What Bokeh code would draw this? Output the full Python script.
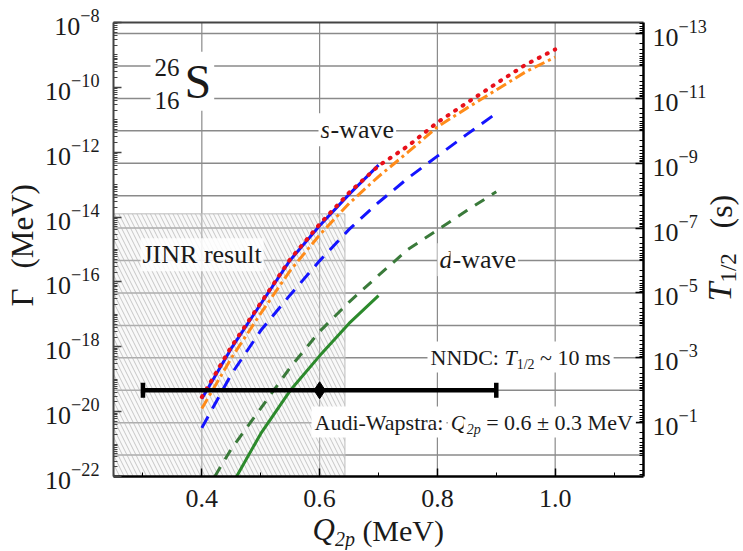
import math
from bokeh.plotting import figure
from bokeh.models import (Range1d, LogScale, LogAxis, LinearAxis, FixedTicker, Label,
                          PrintfTickFormatter, Grid)
from bokeh.embed import file_html
from bokeh.resources import INLINE

# ---------------- data ----------------
HBAR_MEV_S = 6.582119569e-22
T_FACTOR = HBAR_MEV_S * math.log(2)          # T1/2 [s] = T_FACTOR / Gamma [MeV]

# s-wave, solid blue
q_s_solid = [0.40, 0.45, 0.50, 0.55, 0.60, 0.65, 0.70]
lg_s_solid = [-19.60, -18.05, -16.68, -15.33, -14.27, -13.30, -12.40]
# s-wave, red dotted and orange dash-dot
q_s_long = [0.40, 0.45, 0.50, 0.55, 0.60, 0.65, 0.70, 0.75, 0.80, 0.85, 0.90, 0.95, 1.00]
lg_s_dotted = [-19.55, -18.00, -16.65, -15.30, -14.22, -13.25, -12.42, -11.81, -11.08, -10.48, -9.88, -9.30, -8.83]
lg_s_dashdot = [-19.90, -18.35, -16.97, -15.65, -14.55, -13.58, -12.75, -12.00, -11.22, -10.64, -10.08, -9.52, -9.07]
# s-wave, blue dashed
q_s_dashed = [0.40, 0.45, 0.50, 0.55, 0.60, 0.65, 0.70, 0.75, 0.80, 0.85, 0.90]
lg_s_dashed = [-20.50, -18.85, -17.50, -16.40, -15.35, -14.38, -13.55, -12.80, -12.12, -11.45, -10.80]
# d-wave, green dashed and solid
q_d_dashed = [0.422, 0.45, 0.50, 0.55, 0.60, 0.65, 0.70, 0.75, 0.80, 0.85, 0.90]
lg_d_dashed = [-22.00, -21.15, -19.90, -18.64, -17.53, -16.62, -15.80, -15.00, -14.40, -13.80, -13.22]
q_d_solid = [0.459, 0.50, 0.55, 0.60, 0.65, 0.70]
lg_d_solid = [-22.00, -20.68, -19.35, -18.28, -17.28, -16.42]

# JINR result region (hatched)
jinr_q = [0.25, 0.643]
jinr_lg = [-22.0, -13.9]

# Audi-Wapstra Q2p and NNDC half-life
aw_q = 0.6
aw_err = 0.3
nndc_t_half = 0.010  # s

x_ticks = [0.4, 0.6, 0.8, 1.0]
x_minor = [0.3, 0.5, 0.7, 0.9, 1.1]
g_major_exp = list(range(-22, -7, 2))
t_major_exp = list(range(-13, 0, 2))
t_grid_exp = list(range(-13, 1))

# ---------------- figure ----------------
FONT = "Liberation Serif"
INK = "#1a1a1a"
X0, X1 = 0.25, 1.15
LG0, LG1 = -22.0, -8.0
WIDTH, HEIGHT = 742, 550

# box of the chart in page pixels (used to place texts and set the view)
FL, FR, FT, FB = 113, 643, 22, 476


def X(px):
    return X0 + (px - FL) / (FR - FL) * (X1 - X0)


def Y(py):
    return 10 ** (LG0 + (FB - py) / (FB - FT) * (LG1 - LG0))


p = figure(width=WIDTH, height=HEIGHT, x_range=Range1d(X(0), X(WIDTH)), y_range=Range1d(Y(HEIGHT), Y(0)),
           y_axis_type="log", x_axis_location=None, y_axis_location=None,
           output_backend="svg", toolbar_location=None, title=None, min_border=0)
p.y_scale = LogScale()
p.min_border_left = p.min_border_right = p.min_border_top = p.min_border_bottom = 0
p.outline_line_color = None
p.background_fill_color = "white"
p.border_fill_color = "white"
p.center = [r for r in p.center if not isinstance(r, Grid)]

GRID = "#8a8a8a"
# grid lines: vertical at x majors, horizontal at decades of T1/2
p.segment(x0=x_ticks, x1=x_ticks, y0=[10 ** LG0] * len(x_ticks), y1=[10 ** LG1] * len(x_ticks),
          line_color=GRID, line_width=1.2)
gy = [T_FACTOR / 10.0 ** e for e in t_grid_exp]
p.segment(x0=[X0] * len(gy), x1=[X1] * len(gy), y0=gy, y1=gy, line_color=GRID, line_width=1.5)

# JINR hatched region
p.quad(left=[jinr_q[0]], right=[jinr_q[1]], bottom=[10 ** jinr_lg[0]], top=[10 ** jinr_lg[1]],
       fill_color="#eeeeee", fill_alpha=0.35, hatch_pattern="\\", hatch_color="#b0b0b0",
       hatch_scale=9, hatch_weight=1, hatch_alpha=0.7, line_color="#bbbbbb", line_width=1)


def pw(v):
    return [10 ** a for a in v]


p.line(q_d_solid, pw(lg_d_solid), line_color="#2c8a2c", line_width=3)
p.line(q_d_dashed, pw(lg_d_dashed), line_color="#3a7a3a", line_width=3, line_dash="11 9")
p.line(q_s_dashed, pw(lg_s_dashed), line_color="#1414ff", line_width=3, line_dash="13 9")
p.line(q_s_long, pw(lg_s_dashdot), line_color="#ff8c1a", line_width=3, line_dash="11 4 3 4")
p.line(q_s_solid, pw(lg_s_solid), line_color="#1414ff", line_width=3)
p.line(q_s_long, pw(lg_s_dotted), line_color="#e8101a", line_width=4, line_dash="1 8", line_cap="round")

# error bar (Audi-Wapstra Q2p at NNDC half-life)
g_nndc = T_FACTOR / nndc_t_half
p.segment(x0=[aw_q - aw_err], x1=[aw_q + aw_err], y0=[g_nndc], y1=[g_nndc], line_color="black", line_width=4.5)
p.scatter(x=[aw_q - aw_err, aw_q + aw_err], y=[g_nndc, g_nndc], marker="dash", angle=math.pi / 2,
          size=15, line_color="black", line_width=4.5)
p.scatter(x=[aw_q], y=[g_nndc], marker="diamond", size=17, fill_color="black", line_color="black")

# top border of the box
p.segment(x0=[X0], x1=[X1], y0=[10 ** LG1], y1=[10 ** LG1], line_color="#444444", line_width=2)

# ---------------- axes ----------------
g_lo, g_hi = 10 ** LG0, 10 ** LG1
t_lo, t_hi = T_FACTOR / g_hi, T_FACTOR / g_lo
g_minor = [k * 10.0 ** n for n in range(-22, -7) for k in range(1, 10) if g_lo <= k * 10.0 ** n <= g_hi]
t_minor = [k * 10.0 ** n for n in range(-14, 1) for k in range(1, 10) if t_lo <= k * 10.0 ** n <= t_hi]

bax = LinearAxis(fixed_location=g_lo, bounds=(X0, X1),
                 ticker=FixedTicker(ticks=x_ticks, minor_ticks=x_minor),
                 formatter=PrintfTickFormatter(format="%.1f"))
lax = LogAxis(fixed_location=X0, bounds=(g_lo, g_hi),
              ticker=FixedTicker(ticks=[10.0 ** e for e in g_major_exp], minor_ticks=g_minor))
p.extra_y_ranges = {"T": Range1d(start=T_FACTOR / Y(HEIGHT), end=T_FACTOR / Y(0))}
p.extra_y_scales = {"T": LogScale()}
rax = LogAxis(y_range_name="T", fixed_location=X1, bounds=(t_lo, t_hi),
              ticker=FixedTicker(ticks=[10.0 ** e for e in t_major_exp], minor_ticks=t_minor))

for ax, col, lw, so in ((bax, "black", 2.5, 13), (lax, "#444444", 2, 14), (rax, "black", 2.5, 9)):
    ax.major_tick_in = 8
    ax.major_tick_out = 0
    ax.minor_tick_in = 4
    ax.minor_tick_out = 0
    ax.axis_line_color = col
    ax.axis_line_width = lw
    ax.major_tick_line_color = col
    ax.minor_tick_line_color = col
    ax.major_tick_line_width = 1.5
    ax.major_label_text_font = FONT
    ax.major_label_text_font_size = "26px"
    ax.major_label_text_color = INK
    ax.major_label_standoff = so

p.add_layout(bax, "below")
p.add_layout(lax, "left")
p.add_layout(rax, "right")

# ---------------- texts ----------------
W_R = {' ': 250, '(': 333, ')': 333, '-': 333, '.': 250, '/': 278, ':': 278, '=': 564, '~': 541, '±': 564,
       'A': 722, 'C': 667, 'D': 722, 'I': 333, 'J': 389, 'M': 889, 'N': 722, 'R': 667, 'S': 556, 'V': 722,
       'W': 944, 'Q': 722, 'T': 611, 'a': 444, 'd': 500, 'e': 444, 'i': 278, 'l': 278, 'm': 778, 'p': 500,
       'r': 333, 's': 389, 't': 278, 'u': 500, 'v': 500, 'w': 722, 'Γ': 578}
W_I = {'T': 556, 'Q': 722, 'p': 500, 'd': 500, 's': 389}
MID = 0.34  # middle of the em box above the baseline, in em


def tw(s, size, italic=False):
    tot = 0
    for c in s:
        if c.isdigit():
            tot += 500
        elif italic and c in W_I:
            tot += W_I[c]
        else:
            tot += W_R.get(c, 500)
    return tot * size / 1000.0


def add_label(px, py, text, size, style="normal", align="left", vertical=False,
              bg=None, bg_alpha=1.0, pad=0):
    """(px, py) is the start of the text baseline in page pixels."""
    if vertical:
        ax_, ay_ = px - MID * size, py
    else:
        ax_, ay_ = px, py - MID * size
    kw = {}
    if bg is not None:
        kw = dict(background_fill_color=bg, background_fill_alpha=bg_alpha, padding=pad)
    p.add_layout(Label(x=X(ax_), y=Y(ay_), text=text, text_font=FONT, text_font_size=f"{size}px",
                       text_font_style=style, text_align=align, text_baseline="middle",
                       angle=math.pi / 2 if vertical else 0.0, text_color=INK, **kw))


def hrun(px, base, pieces, bg=None, pad=2):
    x = px
    for text, size, style, dy in pieces:
        it = "italic" in style
        core = text.strip(" ")
        lead = len(text) - len(text.lstrip(" "))
        trail = len(text) - lead - len(core)
        x += tw(" " * lead, size)
        add_label(x, base + dy, core, size, style, bg=bg, pad=pad)
        x += tw(core, size, it) + tw(" " * trail, size)


def vrun(bx, py, pieces):
    y = py
    for text, size, style, dx in pieces:
        it = "italic" in style
        core = text.strip(" ")
        lead = len(text) - len(text.lstrip(" "))
        trail = len(text) - lead - len(core)
        y -= tw(" " * lead, size)
        add_label(bx + dx, y, core, size, style, vertical=True)
        y -= tw(core, size, it) + tw(" " * trail, size)


# axis titles
add_label(33, 306, "Γ", 31, vertical=True)
add_label(33, 268, "(MeV)", 31, vertical=True)
vrun(731, 301, [("T", 34, "italic", 0), ("1/2", 23, "normal", 5)])
add_label(731, 228, "(s)", 32, vertical=True)
hrun(312, 540, [("Q", 31, "italic", 0), ("2p", 20, "italic", 5), (" (MeV)", 30, "normal", 0)])

# nucleus label
add_label(150, 75, "26", 25, bg="white", pad=4)
add_label(150, 108, "16", 25, bg="white", pad=4)
add_label(181, 97, "S", 48, bg="white", pad=3)

# wave labels and result labels
hrun(318, 138, [("s", 26, "italic", 0), ("-wave", 26, "normal", 0)], bg="white", pad=2)
hrun(437, 268, [("d", 26, "italic", 0), ("-wave", 26, "normal", 0)], bg="white", pad=2)
add_label(140, 263, "JINR result", 26, bg="white", bg_alpha=0.85, pad=2)

hrun(427, 364, [("NNDC: ", 22, "normal", 0), ("T", 22, "italic", 0), ("1/2", 14, "normal", 5),
                (" ~ 10 ms", 22, "normal", 0)], bg="white", pad=3)
hrun(311, 429, [("Audi-Wapstra: ", 22, "normal", 0), ("Q", 22, "italic", 0), ("2p", 14, "italic", 5),
                (" = 0.6 ± 0.3 MeV", 22, "normal", 0)], bg="white", pad=3)

open("out.html", "w").write(file_html(p, INLINE))
